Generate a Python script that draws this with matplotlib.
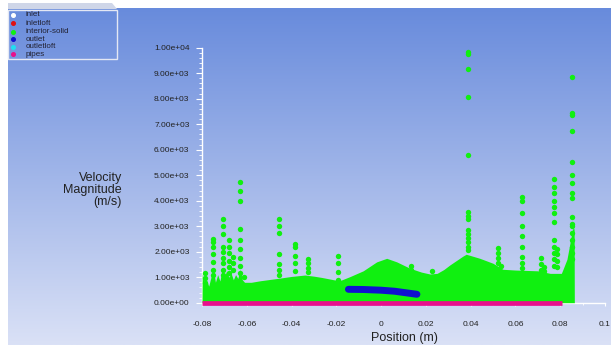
import numpy as np
import matplotlib
matplotlib.use("Agg")
import matplotlib.pyplot as plt
from matplotlib.patches import Rectangle, Polygon

plt.rcParams['font.family'] = ['Liberation Sans Narrow', 'Liberation Sans', 'DejaVu Sans']

# interior-solid: top of the dense band of points (position m, velocity m/s)
band_x = [-0.0800, -0.0799, -0.0790, -0.0780, -0.0770, -0.0760, -0.0750, -0.0740,
          -0.0730, -0.0720, -0.0710, -0.0700, -0.0690, -0.0680, -0.0670, -0.0660,
          -0.0650, -0.0640, -0.0630, -0.0620, -0.0610, -0.0580, -0.0540, -0.0460,
          -0.0400, -0.0340, -0.0300, -0.0265, -0.0206, -0.0180, -0.0140, -0.0080,
          -0.0020, 0.0025, 0.0070, 0.0129, 0.0180, 0.0218, 0.0250, 0.0280, 0.0307,
          0.0366, 0.0380, 0.0441, 0.0500, 0.0544, 0.0600, 0.0700, 0.0755, 0.0805,
          0.0812, 0.0830, 0.0845, 0.0855, 0.0862, 0.0863]
band_y = [0, 1150, 700, 900, 650, 1000, 1350, 800,
          1100, 850, 1300, 1000, 1250, 1000, 1150, 900,
          1100, 950, 1300, 900, 800, 800, 860, 955,
          1030, 1085, 1040, 990, 890, 880, 1020, 1250,
          1600, 1740, 1600, 1350, 1200, 1125, 1150, 1300, 1480,
          1830, 1900, 1740, 1545, 1310, 1280, 1250, 1150, 1150,
          1300, 1700, 2400, 2900, 2900, 0]

# interior-solid: isolated columns of points above the band
spike_x = [-0.0788, -0.0750, -0.0706, -0.0678, -0.0661, -0.0630, -0.0614, -0.0454,
           -0.0384, -0.0327, -0.0191, 0.0134, 0.0226, 0.0386, 0.0522, 0.0534,
           0.0630, 0.0713, 0.0729, 0.0772, 0.0787, 0.0854]
spike_y = [
    [1150, 950, 760],
    [2500, 2400, 2200, 1900, 1600, 1300, 1100],
    [3300, 3000, 2700, 2200, 2000, 1750, 1550, 1300, 1100],
    [2450, 2200, 1950, 1650, 1400, 1150],
    [1800, 1550, 1300],
    [4750, 4400, 4000, 2900, 2450, 2100, 1750, 1450, 1150],
    [1000],
    [3300, 3000, 2750, 1900, 1500, 1300, 1100],
    [2300, 2200, 1850, 1550, 1250],
    [1700, 1550, 1350, 1200],
    [1850, 1550, 1200, 900],
    [1450, 1300],
    [1250],
    [9850, 9750, 9150, 8050, 5800, 3550, 3400, 3300, 2850, 2700, 2550, 2400, 2200, 2050],
    [2150, 1950, 1750, 1550],
    [1450],
    [4150, 4000, 3500, 3000, 2600, 2200, 1800, 1550, 1350],
    [1750, 1500, 1300],
    [1400, 1250],
    [4850, 4550, 4300, 4000, 3750, 3500, 3150, 2450, 2200, 1950, 1700, 1450],
    [2100, 1900, 1650, 1400],
    [8850, 7450, 7350, 6750, 5500, 5000, 4700, 4300, 4100, 3350, 3100, 3000,
     2750, 2450, 2200, 1950, 1700],
]

# outlet
outlet_x = [-0.0146, -0.0080, 0.0000, 0.0060, 0.0110, 0.0160]
outlet_y = [525, 518, 490, 450, 390, 330]

# pipes
pipes_x = [-0.0800, 0.0807]
pipes_y = [0, 0]

legend_names = ['inlet', 'inletloft', 'interior-solid', 'outlet', 'outletloft', 'pipes']
legend_colors = ['#ffffff', '#e01010', '#10f010', '#1010d0', '#20e0f0', '#e8108c']

x_ticks = [-0.08, -0.06, -0.04, -0.02, 0, 0.02, 0.04, 0.06, 0.08, 0.1]
x_tick_labels = ['-0.08', '-0.06', '-0.04', '-0.02', '0', '0.02', '0.04', '0.06', '0.08', '0.1']
y_ticks = list(range(0, 10001, 1000))

W, H = 611, 345
fig = plt.figure(figsize=(W / 100, H / 100), dpi=100)
fig.patch.set_facecolor('white')

# gradient background
bg = fig.add_axes([8 / W, 0, 1 - 8 / W, 1 - 8 / H])
top = np.array([104, 139, 220]) / 255
bot = np.array([218, 225, 246]) / 255
t = np.linspace(0, 1, 256)[:, None]
grad = (top * (1 - t) + bot * t)[:, None, :]
bg.imshow(grad, aspect='auto', extent=[0, 1, 0, 1])
bg.set_axis_off()

ax = fig.add_axes([202 / W, (H - 302.7) / H, (605 - 202) / W, (302.7 - 47.7) / H])
ax.patch.set_alpha(0)

ax.fill_between(band_x, band_y, 0, color='#10f010', linewidth=0, zorder=2)
sx, sy = [], []
for x, ys in zip(spike_x, spike_y):
    for y in ys:
        sx.append(x)
        sy.append(y)
ax.scatter(sx, sy, s=15, color='#10f010', linewidths=0, zorder=2)
ax.plot(outlet_x, outlet_y, color='#1010d0', linewidth=5, solid_capstyle='round', zorder=3)
ax.plot(pipes_x, pipes_y, color='#e8108c', linewidth=3.4, solid_capstyle='butt',
        zorder=4, clip_on=False)

ax.set_xlim(-0.08, 0.1)
ax.set_ylim(0, 10000)
for s in ['top', 'right']:
    ax.spines[s].set_visible(False)
for s in ['left', 'bottom']:
    ax.spines[s].set_color('white')
    ax.spines[s].set_linewidth(1)
    ax.spines[s].set_zorder(1)

ax.set_xticks(x_ticks)
ax.set_xticklabels(x_tick_labels)
ax.set_yticks(y_ticks)
ax.set_yticklabels(['%.2e' % v for v in y_ticks])
ax.set_yticks(np.arange(0, 10001, 200), minor=True)
ax.set_xticks(np.arange(-0.08, 0.1001, 0.01), minor=True)
ax.tick_params(axis='y', which='major', direction='out', length=4, width=0.8,
               color='white', labelsize=6, labelcolor='#222222', pad=5)
ax.tick_params(axis='y', which='minor', direction='out', length=2.5, width=0.6, color='white')
ax.tick_params(axis='x', which='major', direction='out', length=2, width=0.8,
               color='white', labelsize=6, labelcolor='#222222', pad=11)
ax.tick_params(axis='x', which='minor', direction='out', length=1.5, width=0.6, color='white')

fig.text(122 / W, 1 - 190 / H, 'Velocity\nMagnitude\n(m/s)', ha='right', va='center',
         multialignment='right', fontsize=9, color='#222222', linespacing=1.05)
fig.text(404 / W, 1 - 338 / H, 'Position (m)', ha='center', va='center',
         fontsize=9, color='#222222')

# legend box
fig.patches.append(Polygon([(8 / W, 1 - 3 / H), (112 / W, 1 - 3 / H), (117 / W, 1 - 9 / H),
                            (8 / W, 1 - 9 / H)], closed=True, transform=fig.transFigure,
                           facecolor='#cfd6e8', edgecolor='none'))
fig.patches.append(Rectangle((8 / W, 1 - 59 / H), 109 / W, 49 / H, transform=fig.transFigure,
                             facecolor='none', edgecolor='#e4e8f4', linewidth=1))
row_y = [15, 23.3, 31.6, 39.3, 46.7, 54.3]
for name, col, yy in zip(legend_names, legend_colors, row_y):
    fig.add_artist(plt.Line2D([13 / W], [1 - yy / H], marker='o', markersize=2.6,
                              color=col, linestyle='none', transform=fig.transFigure))
    fig.text(26 / W, 1 - yy / H, name, ha='left', va='center', fontsize=5.8,
             color='#222233')

fig.savefig('out.png', dpi=100)
